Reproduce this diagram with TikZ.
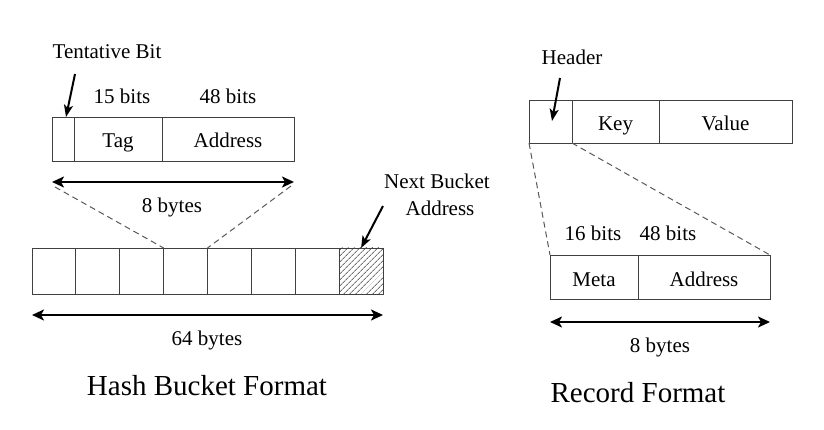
\documentclass[tikz,border=0pt]{standalone}
\usepackage{fontspec}
\setmainfont{Liberation Serif}
\usetikzlibrary{arrows.meta,patterns.meta}
\begin{document}
\begin{tikzpicture}[x=1pt,y=-1pt,
  cell/.style={draw=black!75, line width=0.9pt, anchor=north west, inner sep=0pt, outer sep=0pt, font=\fontsize{21}{25}\selectfont, text height=18pt, text depth=0pt},
  lbl/.style={font=\fontsize{21}{25}\selectfont, inner sep=0pt, anchor=base},
  title/.style={font=\fontsize{29}{33}\selectfont, inner sep=0pt, anchor=base},
  bigarrow/.style={line width=2.4pt, {Stealth[length=12pt,width=11pt,inset=3pt]}-{Stealth[length=12pt,width=11pt,inset=3pt]}},
  ptr/.style={line width=2pt, -{Stealth[length=12pt,width=9pt,inset=3pt]}},
  dashline/.style={draw=black!65, line width=1pt, dash pattern=on 6pt off 4pt}]
\useasboundingbox (0,0) rectangle (824,430);
% ---------- Hash bucket format ----------
\node[cell, minimum width=22pt, minimum height=44pt] (tb) at (52,117) {};
\node[cell, minimum width=88pt, minimum height=44pt] (tag) at (74,117) {Tag};
\node[cell, minimum width=132pt, minimum height=44pt] (addr1) at (162,117) {Address};
\node[lbl] (tbl) at (107,59) {Tentative Bit};
\node[lbl] (b15) at (122,104) {15 bits};
\node[lbl] (b48a) at (228,104) {48 bits};
\coordinate (tbs) at (75,74);
\coordinate (tbe) at (66,117);
\draw[ptr] (tbs) -- (tbe);
\coordinate (a8l) at (52,182);
\coordinate (a8r) at (294,182);
\draw[bigarrow] (a8l) -- (a8r);
\node[lbl] (b8a) at (172,213) {8 bytes};
% bucket cells
\foreach \i in {0,...,7}{
  \node[cell, minimum width=43.875pt, minimum height=46pt] (c\i) at ({32+43.875*\i},248) {};
}
\pattern[pattern={Lines[angle=45,distance=4pt,line width=1pt]}, pattern color=black!55]
  (c7.north west) rectangle (c7.south east);
\draw[draw=black!75, line width=0.9pt] (c7.north west) rectangle (c7.south east);
\coordinate (d1s) at (55,187);
\coordinate (d2s) at (291,186);
\draw[dashline] (d1s) -- (c3.north west);
\draw[dashline] (d2s) -- (c3.north east);
\coordinate (a64l) at (32,315);
\coordinate (a64r) at (383,315);
\draw[bigarrow] (a64l) -- (a64r);
\node[lbl] (b64) at (207,345) {64 bytes};
\node[title] (hbf) at (207,395) {Hash Bucket Format};
\node[lbl] (nb1) at (437,189) {Next Bucket};
\node[lbl] (nb2) at (440,216) {Address};
\coordinate (nbs) at (383,206);
\draw[ptr] (nbs) -- (c7.north);
% ---------- Record format ----------
\node[cell, minimum width=43pt, minimum height=43pt] (hd) at (529,100) {};
\node[cell, minimum width=87pt, minimum height=43pt] (key) at (572,100) {Key};
\node[cell, minimum width=133pt, minimum height=43pt] (val) at (659,100) {Value};
\node[lbl] (hdl) at (572,65) {Header};
\coordinate (hds) at (560,78);
\coordinate (hde) at (552,121);
\draw[ptr] (hds) -- (hde);
\node[cell, minimum width=88pt, minimum height=44pt] (meta) at (550,255) {Meta};
\node[cell, minimum width=132pt, minimum height=44pt] (addr2) at (638,255) {Address};
\draw[dashline] (hd.south west) -- (meta.north west);
\draw[dashline] (hd.south east) -- (addr2.north east);
\node[lbl] (b16) at (593,241) {16 bits};
\node[lbl] (b48b) at (668,241) {48 bits};
\coordinate (a8bl) at (550,322);
\coordinate (a8br) at (770,322);
\draw[bigarrow] (a8bl) -- (a8br);
\node[lbl] (b8b) at (660,352) {8 bytes};
\node[title] (rf) at (638,402) {Record Format};
\end{tikzpicture}
\end{document}
